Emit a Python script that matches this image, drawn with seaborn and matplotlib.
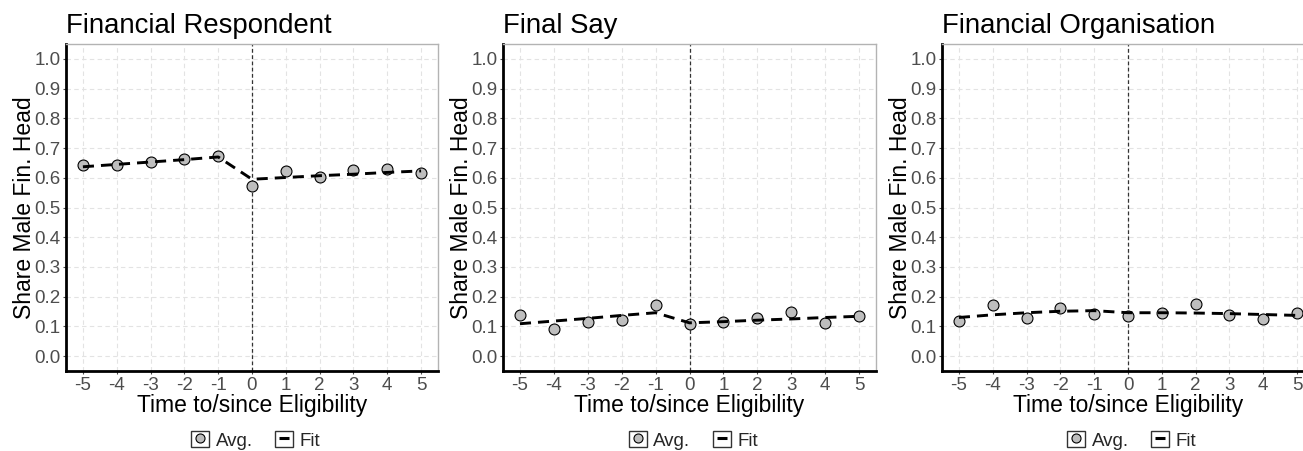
import matplotlib
matplotlib.use('Agg')
import matplotlib.pyplot as plt
import pandas as pd
import seaborn as sns
from matplotlib.lines import Line2D
from matplotlib.patches import Rectangle
from matplotlib.legend_handler import HandlerTuple

# event time relative to eligibility
years = [-5, -4, -3, -2, -1, 0, 1, 2, 3, 4, 5]
xtick_labels = ['-5', '-4', '-3', '-2', '-1', '0', '1', '2', '3', '4', '5']
yticks = [0.0, 0.1, 0.2, 0.3, 0.4, 0.5, 0.6, 0.7, 0.8, 0.9, 1.0]
ytick_labels = ['0.0', '0.1', '0.2', '0.3', '0.4', '0.5', '0.6', '0.7', '0.8', '0.9', '1.0']

titles = ['Financial Respondent', 'Final Say', 'Financial Organisation']

# averages (points) and fitted values (dashed line)
resp_avg = [0.644, 0.643, 0.653, 0.663, 0.674, 0.572, 0.622, 0.601, 0.626, 0.629, 0.615]
resp_fit = [0.637, 0.645, 0.653, 0.661, 0.670, 0.595, 0.601, 0.607, 0.612, 0.618, 0.623]
say_avg = [0.137, 0.091, 0.114, 0.121, 0.172, 0.108, 0.114, 0.128, 0.150, 0.110, 0.135]
say_fit = [0.109, 0.118, 0.127, 0.137, 0.146, 0.112, 0.116, 0.121, 0.125, 0.130, 0.134]
org_avg = [0.117, 0.172, 0.128, 0.163, 0.142, 0.135, 0.145, 0.175, 0.137, 0.126, 0.144]
org_fit = [0.130, 0.139, 0.146, 0.151, 0.153, 0.146, 0.146, 0.145, 0.143, 0.140, 0.137]

sns.set_theme(style='white')
plt.rcParams['font.family'] = ['Liberation Sans', 'DejaVu Sans']
plt.rcParams['axes.unicode_minus'] = False

W, H = 1303, 451
fig = plt.figure(figsize=(W / 100, H / 100), dpi=100)

# panel boxes in pixels: left, right, top, bottom
boxes = [(66, 438, 44, 371), (503, 876, 44, 371), (942, 1314, 44, 371)]


def draw_panel(ax, title, avg, fit):
    df = pd.DataFrame({'Time': years, 'Avg': avg, 'Fit': fit})
    ax.grid(True, color='#e3e3e3', linestyle=(0, (4, 3)), linewidth=0.8)
    ax.set_axisbelow(True)
    ax.axvline(0, color='#333333', linestyle=(0, (3, 2)), linewidth=0.9, zorder=1)
    sns.scatterplot(data=df, x='Time', y='Avg', ax=ax, color='#bebebe',
                    edgecolor='black', linewidth=0.8, s=62, zorder=3)
    sns.lineplot(data=df, x='Time', y='Fit', ax=ax, color='black',
                 linewidth=2.1, linestyle=(0, (3.8, 2.4)), zorder=4)
    ax.set_xlim(-5.5, 5.5)
    ax.set_ylim(-0.05, 1.05)
    ax.set_xticks(years)
    ax.set_xticklabels(xtick_labels)
    ax.set_yticks(yticks)
    ax.set_yticklabels(ytick_labels)
    ax.tick_params(axis='both', labelsize=13.5, labelcolor='#4d4d4d',
                   length=2.5, width=0.8, color='#4d4d4d', pad=1.5, left=True, bottom=True)
    ax.set_xlabel('Time to/since Eligibility', fontsize=16.5, color='black', labelpad=0)
    ax.set_ylabel('Share Male Fin. Head', fontsize=16.5, color='black', labelpad=-1)
    ax.set_title(title, loc='left', fontsize=19.8, color='black', pad=8)
    for side in ['left', 'bottom']:
        ax.spines[side].set_color('black')
        ax.spines[side].set_linewidth(2.0)
    for side in ['top', 'right']:
        ax.spines[side].set_color('#b3b3b3')
        ax.spines[side].set_linewidth(1.0)

    box = Rectangle((0, 0), 1, 1, facecolor='white', edgecolor='#333333', linewidth=1.0)
    box2 = Rectangle((0, 0), 1, 1, facecolor='white', edgecolor='#333333', linewidth=1.0)
    pt = Line2D([], [], marker='o', linestyle='', markerfacecolor='#bebebe',
                markeredgecolor='black', markersize=6.5, markeredgewidth=0.8)
    dash = Line2D([], [], marker='_', linestyle='', color='black',
                  markersize=7, markeredgewidth=2.2)
    ax.legend([(box, pt), (box2, dash)], ['Avg.', 'Fit'],
              handler_map={tuple: HandlerTuple(ndivide=1)},
              loc='center', bbox_to_anchor=(0.51, -0.212), frameon=False,
              ncol=2, fontsize=13.5, handlelength=0.95, handleheight=0.95,
              handletextpad=0.35, columnspacing=1.2, borderaxespad=0)


panels = [(resp_avg, resp_fit), (say_avg, say_fit), (org_avg, org_fit)]
for (l, r, t, b), title, (avg, fit) in zip(boxes, titles, panels):
    ax = fig.add_axes([l / W, (H - b) / H, (r - l) / W, (b - t) / H])
    draw_panel(ax, title, avg, fit)

fig.savefig('out.png', dpi=100)
